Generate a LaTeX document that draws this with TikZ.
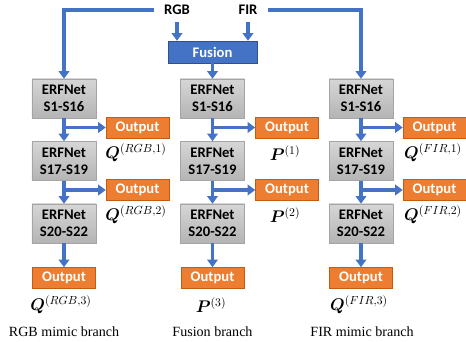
\documentclass[tikz,border=0pt]{standalone}
\usepackage{fontspec}
\usepackage{amsmath,bm}
\setmainfont{Liberation Serif}
\newfontfamily\calfont{Carlito}
\usepackage{xcolor}
\usetikzlibrary{arrows.meta,positioning}

\definecolor{lineblue}{HTML}{4472C4}
\definecolor{fusedge}{HTML}{2F528F}
\definecolor{outfill}{HTML}{ED7D31}
\definecolor{outedge}{HTML}{C55A11}
\definecolor{erftop}{HTML}{D6D6D6}
\definecolor{erfbot}{HTML}{B4B4B4}
\definecolor{erfedge}{HTML}{A5A5A5}

\begin{document}
\begin{tikzpicture}[
    x=0.03cm, y=-0.03cm,
    node distance=0.69cm,
    erf/.style={rectangle, draw=erfedge, top color=erftop, bottom color=erfbot, minimum width=1.92cm, minimum height=1.17cm, inner sep=0pt, align=center, font=\calfont\bfseries\fontsize{12.5}{14.5}\selectfont},
    outbox/.style={rectangle, draw=outedge, fill=outfill, text=white, minimum width=1.89cm, minimum height=0.63cm, inner sep=0pt, font=\calfont\bfseries\fontsize{12.5}{14}\selectfont},
    fusbox/.style={rectangle, draw=fusedge, fill=lineblue, text=white, minimum width=2.67cm, minimum height=0.66cm, inner sep=0pt, font=\calfont\bfseries\fontsize{12.5}{14}\selectfont},
    inp/.style={inner xsep=0.3cm, inner ysep=0.2cm, font=\calfont\bfseries\fontsize{12.5}{14}\selectfont},
    lab/.style={font=\fontsize{14}{16}\selectfont},
    captxt/.style={font=\fontsize{12}{14}\selectfont},
    arrow/.style={draw=lineblue, line width=2.6pt, -{Triangle[length=6.5pt,width=9pt]}}
]
\useasboundingbox (0,0) rectangle (466,342);

% inputs
\node[inp] (rgb) at (177,10) {RGB};
\node[inp] (fir) at (248,10) {FIR};
\node[fusbox] (fusion) at (212.5,52) {Fusion};

% RGB mimic branch
\node[erf] (rgbA) at (64,98.5) {ERFNet\\S1-S16};
\node[erf, below=of rgbA] (rgbB) {ERFNet\\S17-S19};
\node[erf, below=of rgbB] (rgbC) {ERFNet\\S20-S22};
\node[outbox] (rgbO1) at (137.5,127.5) {Output};
\node[outbox] (rgbO2) at (137.5,190) {Output};
\node[outbox, below=0.72cm of rgbC] (rgbO3) {Output};

% fusion branch
\node[erf] (fusA) at (212.5,98.5) {ERFNet\\S1-S16};
\node[erf, below=of fusA] (fusB) {ERFNet\\S17-S19};
\node[erf, below=of fusB] (fusC) {ERFNet\\S20-S22};
\node[outbox] (fusO1) at (287,127.5) {Output};
\node[outbox] (fusO2) at (287,190) {Output};
\node[outbox, below=0.72cm of fusC] (fusO3) {Output};

% FIR mimic branch
\node[erf] (firA) at (361,98.5) {ERFNet\\S1-S16};
\node[erf, below=of firA] (firB) {ERFNet\\S17-S19};
\node[erf, below=of firB] (firC) {ERFNet\\S20-S22};
\node[outbox] (firO1) at (434.5,127.5) {Output};
\node[outbox] (firO2) at (434.5,190) {Output};
\node[outbox, below=0.72cm of firC] (firO3) {Output};

% output labels
\node[lab] (rgbL1) at (136,153) {$\bm{Q}^{(RGB,1)}$};
\node[lab] (rgbL2) at (136,215) {$\bm{Q}^{(RGB,2)}$};
\node[lab] (rgbL3) at (61,305) {$\bm{Q}^{(RGB,3)}$};
\node[lab] (fusL1) at (285,153) {$\bm{P}^{(1)}$};
\node[lab] (fusL2) at (285,215) {$\bm{P}^{(2)}$};
\node[lab] (fusL3) at (211,305) {$\bm{P}^{(3)}$};
\node[lab] (firL1) at (433,153) {$\bm{Q}^{(FIR,1)}$};
\node[lab] (firL2) at (433,215) {$\bm{Q}^{(FIR,2)}$};
\node[lab] (firL3) at (359,305) {$\bm{Q}^{(FIR,3)}$};

% captions
\node[captxt] (rgbcap) at (64,332) {RGB mimic branch};
\node[captxt] (fuscap) at (212.5,332) {Fusion branch};
\node[captxt] (fircap) at (362,332) {FIR mimic branch};

% connections from inputs
\draw[arrow] (rgb.west) -| (rgbA.north);
\draw[arrow] (fir.east) -| (firA.north);
\draw[arrow] (rgb.south) -- (rgb.south |- fusion.north);
\draw[arrow] (fir.south) -- (fir.south |- fusion.north);
\draw[arrow] (fusion) -- (fusA);

% connections along the branches
\draw[arrow] (rgbA) -- (rgbB);
\draw[arrow] (rgbB) -- (rgbC);
\draw[arrow] (rgbC) -- (rgbO3);
\draw[arrow] (rgbA.south |- rgbO1.west) -- (rgbO1.west);
\draw[arrow] (rgbB.south |- rgbO2.west) -- (rgbO2.west);

\draw[arrow] (fusA) -- (fusB);
\draw[arrow] (fusB) -- (fusC);
\draw[arrow] (fusC) -- (fusO3);
\draw[arrow] (fusA.south |- fusO1.west) -- (fusO1.west);
\draw[arrow] (fusB.south |- fusO2.west) -- (fusO2.west);

\draw[arrow] (firA) -- (firB);
\draw[arrow] (firB) -- (firC);
\draw[arrow] (firC) -- (firO3);
\draw[arrow] (firA.south |- firO1.west) -- (firO1.west);
\draw[arrow] (firB.south |- firO2.west) -- (firO2.west);

\end{tikzpicture}
\end{document}
